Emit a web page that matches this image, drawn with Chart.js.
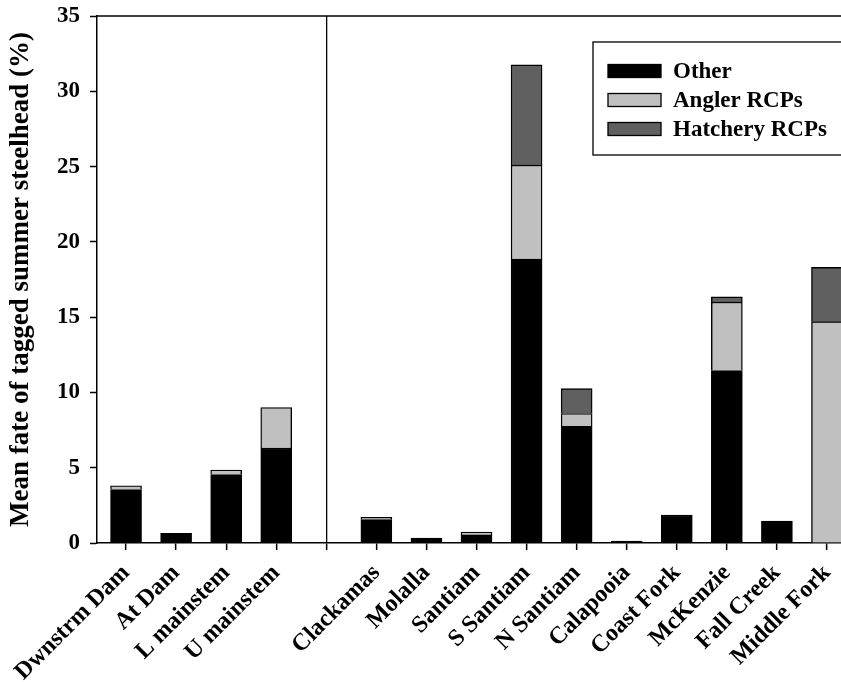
<!DOCTYPE html>
<html>
<head>
<meta charset="utf-8">
<title>Fate of tagged summer steelhead</title>
<script src="https://cdn.jsdelivr.net/npm/chart.js@4.4.1/dist/chart.umd.min.js"></script>
<style>
    html, body { margin: 0; padding: 0; background: #ffffff; overflow: hidden; }
    #wrap { width: 841px; height: 682px; }
</style>
</head>
<body>
<div id="wrap"><canvas id="fateChart" width="841" height="682"></canvas></div>
<script>
// categories, with an empty slot where the divider between the two groups sits
const categories = ['Dwnstrm Dam', 'At Dam', 'L mainstem', 'U mainstem', '',
    'Clackamas', 'Molalla', 'Santiam', 'S Santiam', 'N Santiam',
    'Calapooia', 'Coast Fork', 'McKenzie', 'Fall Creek', 'Middle Fork'];

const otherValues    = [3.55, 0.65, 4.55, 6.3, null, 1.55, 0.33, 0.55, 18.85, 7.75, 0.12, 1.85, 11.45, 1.45, 0];
const anglerValues   = [0.25, null, 0.3, 2.7, null, 0.15, null, 0.17, 6.25, 0.85, null, null, 4.55, null, 14.7];
const hatcheryValues = [null, null, null, null, null, null, null, null, 6.65, 1.65, null, null, 0.35, null, 3.6];

const yTicks = [0, 5, 10, 15, 20, 25, 30, 35];
const dividerIndex = 4;

const serif = "'Liberation Serif', 'Times New Roman', serif";

function toPoints(values) {
    return values.map((v, i) => ({ x: i, y: v }));
}

// frame line on top + boxed legend inside the plot
const framePlugin = {
    id: 'frame',
    afterDraw(chart) {
        const c = chart.ctx;
        const area = chart.chartArea;
        c.save();
        c.strokeStyle = '#000';
        c.lineWidth = 1.5;
        c.beginPath();
        c.moveTo(area.left, area.top);
        c.lineTo(area.right + 2, area.top);
        c.stroke();

        // legend box (right side runs off the picture)
        c.lineWidth = 1.3;
        c.strokeRect(593, 42, 270, 113);
        chart.data.datasets.forEach((ds, i) => {
            const y = 71 + i * 29;
            c.fillStyle = ds.backgroundColor;
            c.fillRect(608, y - 6.5, 53, 13);
            c.strokeStyle = '#000';
            c.lineWidth = 1.3;
            c.strokeRect(608, y - 6.5, 53, 13);
            c.fillStyle = '#000';
            c.font = "bold 23px " + serif;
            c.textBaseline = 'middle';
            c.textAlign = 'left';
            c.fillText(ds.label, 673, y + 1);
        });
        c.restore();
    }
};

document.addEventListener("DOMContentLoaded", function() {
    const ctx = document.getElementById('fateChart').getContext('2d');

    const barStyle = {
        borderColor: '#000000',
        borderWidth: 1.4,
        borderSkipped: 'start',
        barThickness: 31
    };

    const fateChart = new Chart(ctx, {
        type: 'bar',
        data: {
            datasets: [
                Object.assign({ label: 'Other', data: toPoints(otherValues), backgroundColor: '#000000' }, barStyle),
                Object.assign({ label: 'Angler RCPs', data: toPoints(anglerValues), backgroundColor: '#c0c0c0' }, barStyle),
                Object.assign({ label: 'Hatchery RCPs', data: toPoints(hatcheryValues), backgroundColor: '#606060' }, barStyle)
            ]
        },
        options: {
            responsive: false,
            animation: false,
            layout: { padding: { left: 0, right: 0, top: 16, bottom: 0 } },
            plugins: {
                legend: { display: false },
                tooltip: { enabled: false }
            },
            scales: {
                x: {
                    type: 'linear',
                    stacked: true,
                    offset: false,
                    min: -0.58,
                    max: 14.28,
                    afterBuildTicks: function(scale) {
                        scale.ticks = categories.map((c, i) => ({ value: i }));
                    },
                    afterFit: function(scale) {
                        scale.height = 139;
                        scale.paddingLeft = 0;
                        scale.paddingRight = 0;
                    },
                    ticks: {
                        autoSkip: false,
                        maxRotation: 45,
                        minRotation: 45,
                        padding: 9,
                        color: '#000',
                        font: { family: serif, size: 24, weight: 'bold' },
                        callback: function(value) {
                            return categories[value];
                        }
                    },
                    grid: {
                        offset: false,
                        drawOnChartArea: true,
                        tickLength: 7,
                        tickColor: '#000',
                        tickWidth: 1.5,
                        lineWidth: 1.3,
                        color: function(context) {
                            return context.tick && context.tick.value === dividerIndex ? '#000' : 'rgba(0,0,0,0)';
                        }
                    },
                    border: { display: true, color: '#000', width: 1.5 }
                },
                y: {
                    stacked: true,
                    min: 0,
                    max: 35,
                    afterBuildTicks: function(scale) {
                        scale.ticks = yTicks.map(v => ({ value: v }));
                    },
                    afterFit: function(scale) {
                        scale.width = 97;
                        scale.paddingTop = 0;
                        scale.paddingBottom = 0;
                    },
                    ticks: {
                        padding: 10,
                        color: '#000',
                        font: { family: serif, size: 23, weight: 'bold' }
                    },
                    grid: {
                        drawOnChartArea: false,
                        tickLength: 7,
                        tickColor: '#000',
                        tickWidth: 1.5
                    },
                    border: { display: true, color: '#000', width: 1.5 },
                    title: {
                        display: true,
                        text: 'Mean fate of tagged summer steelhead (%)',
                        color: '#000',
                        padding: { top: 5, bottom: 0 },
                        font: { family: serif, size: 27, weight: 'bold' }
                    }
                }
            }
        },
        plugins: [framePlugin]
    });
});
</script>
</body>
</html>
